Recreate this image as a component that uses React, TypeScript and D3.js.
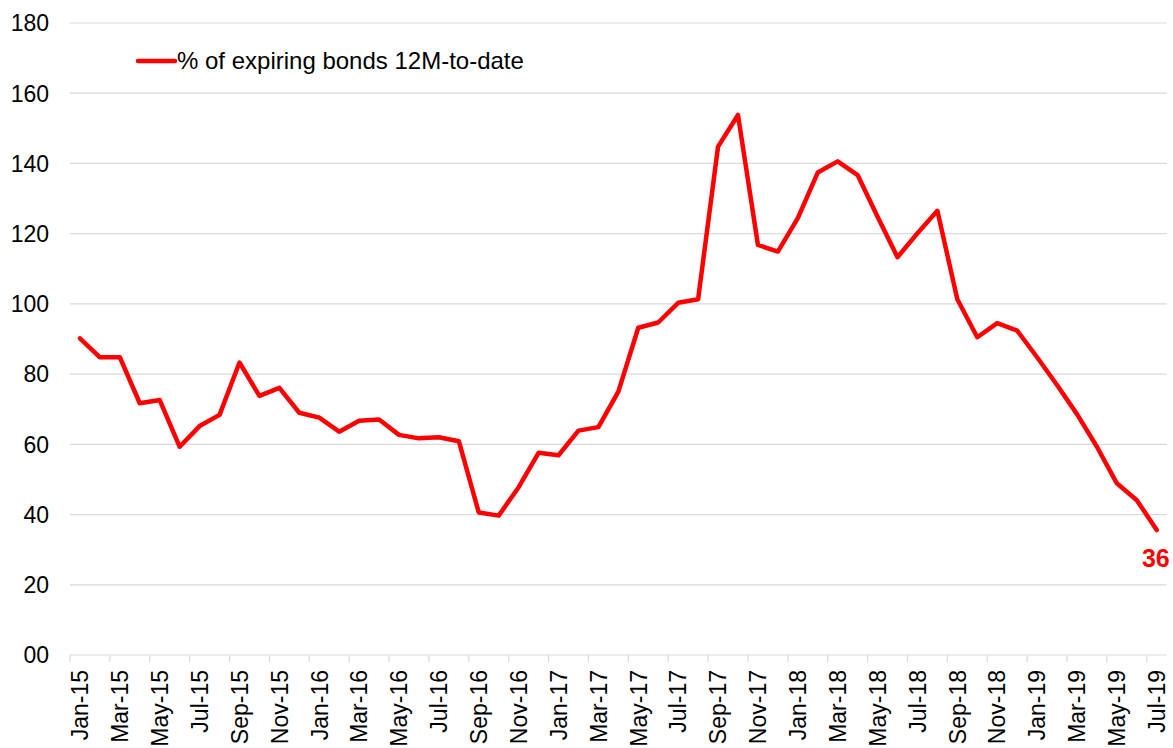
import React from "react";
import * as d3 from "d3";

const months: string[] = [
  "Jan-15","Feb-15","Mar-15","Apr-15","May-15","Jun-15","Jul-15","Aug-15","Sep-15","Oct-15","Nov-15","Dec-15",
  "Jan-16","Feb-16","Mar-16","Apr-16","May-16","Jun-16","Jul-16","Aug-16","Sep-16","Oct-16","Nov-16","Dec-16",
  "Jan-17","Feb-17","Mar-17","Apr-17","May-17","Jun-17","Jul-17","Aug-17","Sep-17","Oct-17","Nov-17","Dec-17",
  "Jan-18","Feb-18","Mar-18","Apr-18","May-18","Jun-18","Jul-18","Aug-18","Sep-18","Oct-18","Nov-18","Dec-18",
  "Jan-19","Feb-19","Mar-19","Apr-19","May-19","Jun-19","Jul-19",
];

const expiringPct: number[] = [
  90.2, 84.8, 84.8, 71.7, 72.6, 59.3, 65.2, 68.4, 83.3, 73.8, 76.1, 69.0,
  67.6, 63.6, 66.7, 67.1, 62.7, 61.7, 62.0, 60.9, 40.6, 39.7, 47.8, 57.6,
  56.9, 63.9, 64.9, 75.0, 93.2, 94.7, 100.3, 101.3, 144.8, 153.8, 116.8, 114.9,
  124.4, 137.4, 140.6, 136.7, 124.8, 113.3, 120.1, 126.5, 101.3, 90.5, 94.5, 92.4,
  84.8, 76.9, 68.6, 59.3, 48.9, 44.1, 35.6,
];

const yTicks: number[] = [0, 20, 40, 60, 80, 100, 120, 140, 160, 180];
const yTickLabels: string[] = ["00", "20", "40", "60", "80", "100", "120", "140", "160", "180"];
const seriesName = "% of expiring bonds 12M-to-date";
const lastLabel = "36";

const W = 1173;
const H = 748;
const left = 70;
const right = 1166.7;
const top = 23;
const bottom = 655;
const FONT = "Liberation Sans, Arial, sans-serif";

export default function App() {
  const x = d3.scaleBand<string>().domain(months).range([left, right]).padding(0);
  const y = d3.scaleLinear().domain([0, 180]).range([bottom, top]);
  const cx = (m: string) => (x(m) as number) + x.bandwidth() / 2;
  const data = months.map((m, i) => ({ m, v: expiringPct[i] }));
  const line = d3
    .line<{ m: string; v: number }>()
    .x((d) => cx(d.m))
    .y((d) => y(d.v));
  const last = data[data.length - 1];
  const tickMonths = months.filter((_, i) => i % 2 === 0);

  return (
    <svg
      width={W}
      height={H}
      style={{ position: "absolute", left: 0, top: 0, background: "#fff" }}
      fontFamily={FONT}
    >
      {yTicks.map((t) => (
        <line key={t} x1={left} x2={right} y1={y(t)} y2={y(t)} stroke="#d9d9d9" strokeWidth={1.2} />
      ))}
      {yTicks.map((t, i) => (
        <text key={"yl" + t} x={49} y={y(t)} dy="0.36em" textAnchor="end" fontSize={23} fill="#000">
          {yTickLabels[i]}
        </text>
      ))}
      {tickMonths.map((m) => (
        <line key={"tk" + m} x1={x(m) as number} x2={x(m) as number} y1={bottom} y2={bottom + 7} stroke="#d9d9d9" strokeWidth={1.2} />
      ))}
      {tickMonths.map((m) => (
        <text
          key={"xl" + m}
          transform={`translate(${cx(m)},${bottom + 15}) rotate(-90)`}
          textAnchor="end"
          dy="0.36em"
          fontSize={23}
          fill="#000"
        >
          {m}
        </text>
      ))}
      <path d={line(data) || ""} fill="none" stroke="#ff0000" strokeWidth={4.5} strokeLinejoin="round" strokeLinecap="round" />
      <text x={cx(last.m) + 13} y={567} textAnchor="end" fontSize={25} fontWeight="bold" fill="#ff0000">
        {lastLabel}
      </text>
      <line x1={138} x2={175} y1={61} y2={61} stroke="#ff0000" strokeWidth={4.5} strokeLinecap="round" />
      <text x={177} y={69} fontSize={24} fill="#000">
        {seriesName}
      </text>
    </svg>
  );
}
